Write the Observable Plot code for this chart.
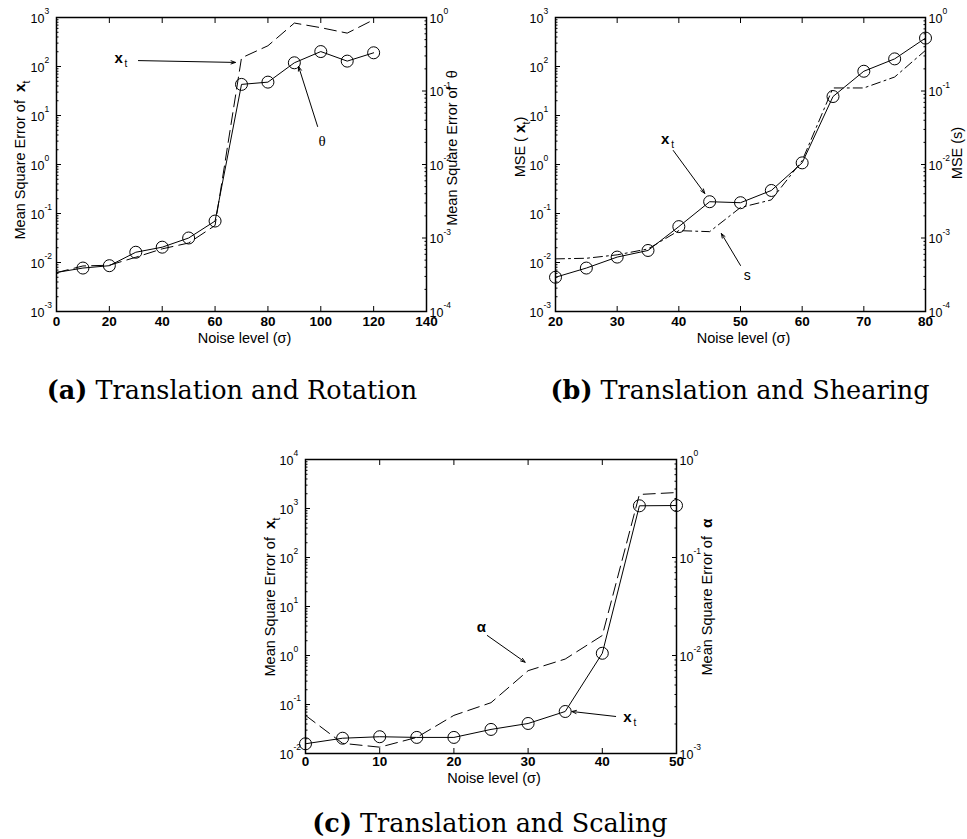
<!DOCTYPE html>
<html>
<head>
<meta charset="utf-8">
<script src="https://cdn.jsdelivr.net/npm/d3@7"></script>
<script src="https://cdn.jsdelivr.net/npm/@observablehq/plot@0.6"></script>
<style>
  body { margin: 0; background: #fff; }
  #fig { position: relative; width: 967px; height: 839px; background: #fff; overflow: hidden; }
  .layer { position: absolute; }
  .layer svg { position: absolute; left: 0; top: 0; }
  .cap { position: absolute; font-family: "DejaVu Serif", "Liberation Serif", serif; font-size: 25.5px;
         white-space: nowrap; transform: translate(-50%, -50%); color: #000; }
  .cap b { font-weight: bold; }
</style>
</head>
<body>
<div id="fig"></div>
<script>
// ---- (a) Translation and Rotation ----
const aNoise = [0, 10, 20, 30, 40, 50, 60, 70, 80, 90, 100, 110, 120];
const aXt    = [0.0062, 0.0085, 0.0088, 0.0128, 0.019, 0.025, 0.057, 150, 265, 770, 620, 480, 900];
const aTheta = [3.4e-4, 3.9e-4, 4.2e-4, 6.4e-4, 7.5e-4, 1.0e-3, 1.7e-3, 0.123, 0.132, 0.242, 0.344, 0.255, 0.331];
const aXTicks = [0, 20, 40, 60, 80, 100, 120, 140];
const aLeftExp = [-3, -2, -1, 0, 1, 2, 3];
const aRightExp = [-4, -3, -2, -1, 0];

// ---- (b) Translation and Shearing ----
const bNoise = [20, 25, 30, 35, 40, 45, 50, 55, 60, 65, 70, 75, 80];
const bXt    = [0.005, 0.0077, 0.0129, 0.0176, 0.054, 0.174, 0.166, 0.295, 1.08, 24.4, 80, 143, 380];
const bS     = [5.2e-4, 5.3e-4, 5.9e-4, 7.1e-4, 1.26e-3, 1.22e-3, 2.6e-3, 3.3e-3, 0.0113, 0.11, 0.11, 0.155, 0.357];
const bXTicks = [20, 30, 40, 50, 60, 70, 80];
const bLeftExp = [-3, -2, -1, 0, 1, 2, 3];
const bRightExp = [-4, -3, -2, -1, 0];

// ---- (c) Translation and Scaling ----
const cNoise = [0, 5, 10, 15, 20, 25, 30, 35, 40, 45, 50];
const cXt    = [0.0158, 0.0205, 0.022, 0.0213, 0.0213, 0.031, 0.041, 0.072, 1.11, 1135, 1150];
const cAlpha = [2.45e-3, 1.27e-3, 1.16e-3, 1.46e-3, 2.45e-3, 3.3e-3, 7.0e-3, 9.2e-3, 0.016, 0.44, 0.46];
const cXTicks = [0, 10, 20, 30, 40, 50];
const cLeftExp = [-2, -1, 0, 1, 2, 3, 4];
const cRightExp = [-3, -2, -1, 0];

const FONT = '"Liberation Sans", Arial, sans-serif';
const fig = document.getElementById("fig");

function rows(xs, ys) { return xs.map((x, i) => ({x, y: ys[i]})); }

function minors(exps) {
  const out = [];
  for (let e = exps[0]; e < exps[exps.length - 1]; e++)
    for (let k = 2; k <= 9; k++) out.push(k * Math.pow(10, e));
  return out;
}

// "10" with a raised exponent, placed just outside the frame
function powerLabels(exps, side) {
  const left = side === "left";
  return [
    Plot.text(exps, {y: e => Math.pow(10, e), frameAnchor: side, text: () => "10",
      textAnchor: "start", dx: left ? -26 : 3, dy: 1, fontSize: 12.5}),
    Plot.text(exps, {y: e => Math.pow(10, e), frameAnchor: side, text: e => String(e),
      textAnchor: "start", dx: left ? -12 : 17, dy: -6, fontSize: 8.5})
  ];
}

function yAxisMarks(exps, side) {
  return [
    Plot.axisY({anchor: side, ticks: exps.map(e => Math.pow(10, e)), tickSize: -5, tickFormat: () => "", label: null}),
    Plot.axisY({anchor: side, ticks: minors(exps), tickSize: -2.5, tickFormat: () => "", label: null}),
    ...powerLabels(exps, side)
  ];
}

function seriesMarks(s) {
  const data = rows(s.x, s.y);
  const marks = [];
  if (s.kind === "o") {
    marks.push(Plot.line(data, {x: "x", y: "y", stroke: "#000", strokeWidth: 1}));
    marks.push(Plot.dot(data.filter(d => d.x >= s.markFrom), {x: "x", y: "y", r: 6, stroke: "#000", strokeWidth: 1, fill: "none"}));
  } else {
    marks.push(Plot.line(data, {x: "x", y: "y", stroke: "#000", strokeWidth: 1,
      strokeDasharray: s.kind === "dashdot" ? "9,4,2,4" : "12,6"}));
  }
  return marks;
}

function noteMarks(notes) {
  const marks = [];
  for (const n of notes) {
    marks.push(Plot.arrow([n], {x1: "x1", y1: "y1", x2: "x2", y2: "y2", stroke: "#000", strokeWidth: 1,
      headLength: 7, headAngle: 40}));
    if (n.sub) {
      marks.push(Plot.text([n], {x: "tx", y: "ty", text: "label", fontSize: 15, fontWeight: "bold", textAnchor: "middle"}));
      marks.push(Plot.text([n], {x: "tx", y: "ty", text: "sub", fontSize: 10, dx: 6, dy: 6, textAnchor: "start"}));
    } else {
      marks.push(Plot.text([n], {x: "tx", y: "ty", text: "label", fontSize: n.size || 14,
        fontWeight: n.bold ? "bold" : "normal", fontFamily: n.serif ? '"Liberation Serif", serif' : FONT}));
    }
  }
  return marks;
}

// rotated rich-text axis title appended to a Plot svg
function richLabel(svg, x, y, parts) {
  const t = d3.select(svg).append("text")
    .attr("transform", `translate(${x},${y}) rotate(-90)`)
    .attr("text-anchor", "middle")
    .attr("font-family", FONT)
    .attr("font-size", 14.5)
    .attr("fill", "#000");
  let shifted = 0;
  for (const p of parts) {
    const ts = t.append("tspan").text(p.t);
    if (p.b) ts.attr("font-weight", "bold").attr("font-size", 15.5);
    if (p.sub) { ts.attr("dy", 5).attr("font-size", 10.5); shifted += 5; }
    else if (shifted) { ts.attr("dy", -shifted); shifted = 0; }
  }
}

function panel(cfg) {
  const wrap = document.createElement("div");
  wrap.className = "layer";
  wrap.style.left = cfg.left + "px";
  wrap.style.top = cfg.top + "px";
  wrap.style.width = cfg.width + "px";
  wrap.style.height = cfg.height + "px";
  const m = cfg.margin;
  const common = {
    width: cfg.width, height: cfg.height,
    marginLeft: m[3], marginRight: m[1], marginTop: m[0], marginBottom: m[2],
    style: {background: "transparent", color: "#000", fontFamily: FONT, overflow: "visible"}
  };
  const left = cfg.series.filter(s => s.side === "left");
  const right = cfg.series.filter(s => s.side === "right");
  const base = Plot.plot({
    ...common,
    x: {domain: cfg.xDomain},
    y: {type: "log", domain: [Math.pow(10, cfg.leftExp[0]), Math.pow(10, cfg.leftExp[cfg.leftExp.length - 1])]},
    marks: [
      Plot.axisX({anchor: "bottom", ticks: cfg.xTicks, tickSize: -5, tickPadding: cfg.tickPad, fontSize: 13.5,
        fontWeight: "bold", label: null}),
      Plot.axisX({anchor: "top", ticks: cfg.xTicks, tickSize: -5, tickFormat: () => "", label: null}),
      ...yAxisMarks(cfg.leftExp, "left"),
      Plot.text(["Noise level (\u03c3)"], {frameAnchor: "bottom", dy: cfg.xLabelDy, fontSize: 14.5, dx: 3}),
      ...left.flatMap(seriesMarks),
      ...noteMarks(cfg.notes),
      Plot.frame({stroke: "#000", strokeWidth: 1.5})
    ]
  });
  const over = Plot.plot({
    ...common,
    x: {domain: cfg.xDomain, axis: null},
    y: {type: "log", domain: [Math.pow(10, cfg.rightExp[0]), Math.pow(10, cfg.rightExp[cfg.rightExp.length - 1])], axis: null},
    marks: [
      ...yAxisMarks(cfg.rightExp, "right"),
      ...right.flatMap(seriesMarks)
    ]
  });
  richLabel(base, cfg.leftLabel.x, cfg.leftLabel.y, cfg.leftLabel.parts);
  richLabel(base, cfg.rightLabel.x, cfg.rightLabel.y, cfg.rightLabel.parts);
  wrap.appendChild(base);
  wrap.appendChild(over);
  fig.appendChild(wrap);
}

function caption(cx, cy, tag, text) {
  const d = document.createElement("div");
  d.className = "cap";
  d.style.left = cx + "px";
  d.style.top = cy + "px";
  d.innerHTML = `<b>${tag}</b> ${text}`;
  fig.appendChild(d);
}

panel({
  left: 0, top: 0, width: 480, height: 350, margin: [17, 54, 39, 56],
  xDomain: [0, 140], xTicks: aXTicks, leftExp: aLeftExp, rightExp: aRightExp, tickPad: 10, xLabelDy: 31,
  series: [
    {x: aNoise, y: aXt, side: "left", kind: "dash"},
    {x: aNoise, y: aTheta, side: "right", kind: "o", markFrom: 10}
  ],
  notes: [
    {x1: 31, y1: 132, x2: 67.7, y2: 121, tx: 23.5, ty: 150, label: "x", sub: "t"},
    {x1: 98.8, y1: 5.97, x2: 91.6, y2: 100, tx: 100.5, ty: 3.0, label: "\u03b8", serif: true, size: 15}
  ],
  leftLabel: {x: 25, y: 160, parts: [{t: "Mean Square Error of  "}, {t: "x", b: true}, {t: "t", sub: true}]},
  rightLabel: {x: 457, y: 148, parts: [{t: "Mean Square Error of  \u03b8"}]}
});

panel({
  left: 480, top: 0, width: 487, height: 350, margin: [17, 42, 39, 75],
  xDomain: [20, 80], xTicks: bXTicks, leftExp: bLeftExp, rightExp: bRightExp, tickPad: 10, xLabelDy: 31,
  series: [
    {x: bNoise, y: bS, side: "right", kind: "dashdot"},
    {x: bNoise, y: bXt, side: "left", kind: "o", markFrom: 20}
  ],
  notes: [
    {x1: 39.1, y1: 1.93, x2: 44.2, y2: 0.257, tx: 37.8, ty: 3.3, label: "x", sub: "t"},
    {x1: 50.0, y1: 0.0087, x2: 46.9, y2: 0.039, tx: 51.1, ty: 0.0054, label: "s", size: 14}
  ],
  leftLabel: {x: 45, y: 147, parts: [{t: "MSE ( "}, {t: "x", b: true}, {t: "t", sub: true}, {t: ")"}]},
  rightLabel: {x: 482, y: 153, parts: [{t: "MSE (s)"}]}
});

panel({
  left: 240, top: 440, width: 480, height: 360, margin: [19, 44, 47, 65],
  xDomain: [0, 50], xTicks: cXTicks, leftExp: cLeftExp, rightExp: cRightExp, tickPad: 8, xLabelDy: 29,
  series: [
    {x: cNoise, y: cAlpha, side: "right", kind: "dash"},
    {x: cNoise, y: cXt, side: "left", kind: "o", markFrom: 0}
  ],
  notes: [
    {x1: 24.5, y1: 2.56, x2: 29.6, y2: 0.73, tx: 23.7, ty: 3.8, label: "\u03b1", bold: true, size: 15},
    {x1: 41.8, y1: 0.057, x2: 35.9, y2: 0.072, tx: 43.4, ty: 0.055, label: "x", sub: "t"}
  ],
  leftLabel: {x: 35, y: 157, parts: [{t: "Mean Square Error of  "}, {t: "x", b: true}, {t: "t", sub: true}]},
  rightLabel: {x: 472, y: 157, parts: [{t: "Mean Square Error of  "}, {t: "\u03b1", b: true}]}
});

caption(232, 390, "(a)", "Translation and Rotation");
caption(740, 390, "(b)", "Translation and Shearing");
caption(490, 823, "(c)", "Translation and Scaling");
</script>
</body>
</html>
